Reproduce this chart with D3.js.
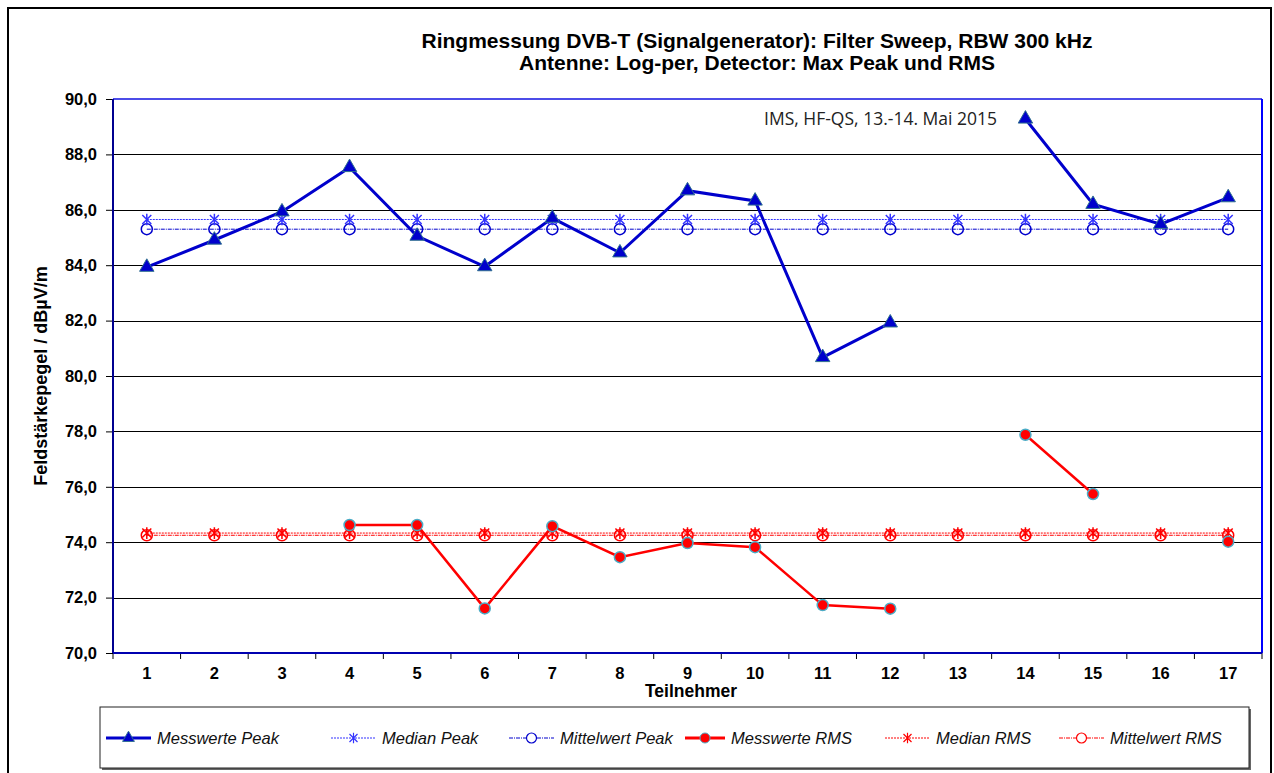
<!DOCTYPE html>
<html>
<head>
<meta charset="utf-8">
<script src="https://cdn.jsdelivr.net/npm/d3@7"></script>
<style>
  html, body { margin: 0; padding: 0; background: #fff; }
  svg { display: block; }
</style>
</head>
<body>
<svg id="chart" width="1274" height="773"></svg>
<script>
// ---- data ----
const categories = ["1","2","3","4","5","6","7","8","9","10","11","12","13","14","15","16","17"];
const messwertePeak = [83.93, 84.91, 85.93, 87.53, 85.05, 83.95, 85.7, 84.45, 86.69, 86.32, 80.67, 81.92, null, 89.28, 86.2, 85.48, 86.44];
const medianPeak = [85.65, 85.65, 85.65, 85.65, 85.65, 85.65, 85.65, 85.65, 85.65, 85.65, 85.65, 85.65, 85.65, 85.65, 85.65, 85.65, 85.65];
const mittelwertPeak = [85.3, 85.3, 85.3, 85.3, 85.3, 85.3, 85.3, 85.3, 85.3, 85.3, 85.3, 85.3, 85.3, 85.3, 85.3, 85.3, 85.3];
const messwerteRMS = [null, null, null, 74.62, 74.62, 71.61, 74.58, 73.46, 73.97, 73.82, 71.73, 71.6, null, 77.88, 75.74, null, 74.02];
const medianRMS = [74.33, 74.33, 74.33, 74.33, 74.33, 74.33, 74.33, 74.33, 74.33, 74.33, 74.33, 74.33, 74.33, 74.33, 74.33, 74.33, 74.33];
const mittelwertRMS = [74.25, 74.25, 74.25, 74.25, 74.25, 74.25, 74.25, 74.25, 74.25, 74.25, 74.25, 74.25, 74.25, 74.25, 74.25, 74.25, 74.25];
const yTicks = [70, 72, 74, 76, 78, 80, 82, 84, 86, 88, 90];
const titleLines = ["Ringmessung DVB-T (Signalgenerator): Filter Sweep, RBW 300 kHz", "Antenne: Log-per, Detector: Max Peak und RMS"];
const yTitle = "Feldstärkepegel / dBµV/m";
const xTitle = "Teilnehmer";
const note = "IMS, HF-QS, 13.-14. Mai 2015";
const legendLabels = ["Messwerte Peak", "Median Peak", "Mittelwert Peak", "Messwerte RMS", "Median RMS", "Mittelwert RMS"];

// ---- layout ----
const svg = d3.select("#chart");
const P = { left: 113, right: 1262, top: 99, bottom: 653 };
const x = d3.scaleBand().domain(categories).range([P.left, P.right]).paddingInner(0).paddingOuter(0);
const cx = c => x(c) + x.bandwidth() / 2;
const y = d3.scaleLinear().domain([70, 90]).range([P.bottom, P.top]);

const BLUE = "#0000CC", LBLUE = "#3333FF", RED = "#FF0000", EDGE = "#4BACC6";
const BOLD = "'Liberation Sans', Arial, sans-serif";

// outer frame
svg.append("rect").attr("x", 8).attr("y", 8).attr("width", 1263).attr("height", 790)
  .attr("fill", "none").attr("stroke", "#000").attr("stroke-width", 2);

// title
const tt = svg.append("text").attr("x", 757).attr("y", 48).attr("text-anchor", "middle")
  .attr("font-family", "'Liberation Sans Narrow', 'Arial Narrow', 'Liberation Sans', sans-serif")
  .attr("font-weight", "bold").attr("font-size", 21).attr("fill", "#000");
titleLines.forEach((t, i) => tt.append("tspan").attr("x", 757).attr("dy", i === 0 ? 0 : 22).text(t));

// gridlines
svg.append("g").selectAll("line").data(yTicks.filter(v => v > 70 && v < 90)).join("line")
  .attr("x1", P.left).attr("x2", P.right)
  .attr("y1", d => Math.round(y(d)) + 0.5).attr("y2", d => Math.round(y(d)) + 0.5)
  .attr("stroke", "#000").attr("stroke-width", 1);

// y axis
const yAxis = d3.axisLeft(y).tickValues(yTicks).tickSize(7).tickPadding(9)
  .tickFormat(d => d3.format(".1f")(d).replace(".", ","));
const gy = svg.append("g").attr("transform", `translate(${P.left},0)`).call(yAxis);
gy.select(".domain").remove();
gy.selectAll(".tick line").attr("stroke", "#000");
gy.selectAll(".tick text").attr("font-family", BOLD).attr("font-weight", "bold").attr("font-size", 16.5).attr("fill", "#000");

// x axis
const xAxis = d3.axisBottom(x).tickSize(0).tickPadding(14);
const gx = svg.append("g").attr("transform", `translate(0,${P.bottom})`).call(xAxis);
gx.select(".domain").remove();
gx.selectAll(".tick text").attr("font-family", BOLD).attr("font-weight", "bold").attr("font-size", 16.5).attr("fill", "#000");
svg.append("g").selectAll("line").data(categories.concat(["end"])).join("line")
  .attr("x1", (d, i) => i < categories.length ? x(d) : P.right)
  .attr("x2", (d, i) => i < categories.length ? x(d) : P.right)
  .attr("y1", P.bottom).attr("y2", P.bottom + 6).attr("stroke", "#000");

// plot border
svg.append("line").attr("x1", P.left).attr("x2", P.right).attr("y1", P.top).attr("y2", P.top).attr("stroke", "#1010E0").attr("stroke-width", 1.5);
svg.append("line").attr("x1", P.right).attr("x2", P.right).attr("y1", P.top).attr("y2", P.bottom).attr("stroke", "#0000FF").attr("stroke-width", 2);
svg.append("line").attr("x1", P.left).attr("x2", P.left).attr("y1", P.top).attr("y2", P.bottom).attr("stroke", "#000090").attr("stroke-width", 2);
svg.append("line").attr("x1", P.left).attr("x2", P.right).attr("y1", P.bottom).attr("y2", P.bottom).attr("stroke", "#0000B0").attr("stroke-width", 2);

// axis titles
svg.append("text").attr("transform", `translate(47,${(P.top + P.bottom) / 2}) rotate(-90)`)
  .attr("text-anchor", "middle").attr("font-family", BOLD).attr("font-weight", "bold").attr("font-size", 18).text(yTitle);
svg.append("text").attr("x", 691).attr("y", 697).attr("text-anchor", "middle")
  .attr("font-family", BOLD).attr("font-weight", "bold").attr("font-size", 17.5).text(xTitle);

// note
svg.append("text").attr("x", 997).attr("y", 125).attr("text-anchor", "end")
  .attr("font-family", "'Open Sans', 'Noto Sans', sans-serif").attr("font-size", 17.5).attr("fill", "#222").text(note);

// ---- marker helpers ----
function starPath(s) {
  return `M${-s},${-s}L${s},${s}M${-s},${s}L${s},${-s}M0,${-s * 1.3}L0,${s * 1.3}`;
}
const triSym = d3.symbol().type(d3.symbolTriangle).size(90);

function flatSeries(vals, color, dash, width) {
  const pts = categories.map((c, i) => [cx(c), vals[i]]);
  svg.append("path").datum(pts)
    .attr("d", d3.line().defined(d => d[1] != null).x(d => d[0]).y(d => y(d[1])))
    .attr("fill", "none").attr("stroke", color).attr("stroke-width", width).attr("stroke-dasharray", dash);
}

// median/mean lines
flatSeries(medianPeak, LBLUE, "2,1", 1);
flatSeries(mittelwertPeak, BLUE, "4,1,1,1", 1);
flatSeries(medianRMS, RED, "2,1", 1);
flatSeries(mittelwertRMS, RED, "4,1,1,1", 1);

// median / mean markers
function starMarkers(vals, color) {
  svg.append("g").selectAll("path").data(categories.filter((c, i) => vals[i] != null)).join("path")
    .attr("transform", c => `translate(${cx(c)},${y(vals[categories.indexOf(c)])})`)
    .attr("d", starPath(4.5)).attr("fill", "none").attr("stroke", color).attr("stroke-width", 1.5);
}
function circleMarkers(vals, color) {
  svg.append("g").selectAll("circle").data(categories.filter((c, i) => vals[i] != null)).join("circle")
    .attr("cx", c => cx(c)).attr("cy", c => y(vals[categories.indexOf(c)])).attr("r", 5.5)
    .attr("fill", "none").attr("stroke", color).attr("stroke-width", 1.5);
}
circleMarkers(mittelwertPeak, BLUE);
starMarkers(medianPeak, LBLUE);
circleMarkers(mittelwertRMS, RED);
starMarkers(medianRMS, RED);

// Messwerte Peak
const peakPts = categories.map((c, i) => ({ c, v: messwertePeak[i] }));
svg.append("path").datum(peakPts)
  .attr("d", d3.line().defined(d => d.v != null).x(d => cx(d.c)).y(d => y(d.v)))
  .attr("fill", "none").attr("stroke", BLUE).attr("stroke-width", 3);
svg.append("g").selectAll("path").data(peakPts.filter(d => d.v != null)).join("path")
  .attr("transform", d => `translate(${cx(d.c)},${y(d.v)})`)
  .attr("d", triSym).attr("fill", BLUE).attr("stroke", "#2F6F8F").attr("stroke-width", 1);

// Messwerte RMS
const rmsPts = categories.map((c, i) => ({ c, v: messwerteRMS[i] }));
svg.append("path").datum(rmsPts)
  .attr("d", d3.line().defined(d => d.v != null).x(d => cx(d.c)).y(d => y(d.v)))
  .attr("fill", "none").attr("stroke", RED).attr("stroke-width", 2.5);
svg.append("g").selectAll("circle").data(rmsPts.filter(d => d.v != null)).join("circle")
  .attr("cx", d => cx(d.c)).attr("cy", d => y(d.v)).attr("r", 5.5)
  .attr("fill", RED).attr("stroke", EDGE).attr("stroke-width", 1.5);

// ---- legend ----
const L = { x: 100, y: 707, w: 1149, h: 61 };
svg.append("rect").attr("x", L.x + 2).attr("y", L.y + 2).attr("width", L.w).attr("height", L.h).attr("fill", "#666");
svg.append("rect").attr("x", L.x).attr("y", L.y).attr("width", L.w).attr("height", L.h)
  .attr("fill", "#fff").attr("stroke", "#222").attr("stroke-width", 1);
const textStarts = [157, 382, 560, 731, 936, 1110];
const sampleLen = [45, 45, 45, 40, 45, 45];
const ly = 738;
const legendStyles = [
  { color: BLUE, width: 3, dash: null, mark: "tri" },
  { color: LBLUE, width: 1, dash: "2,1", mark: "star" },
  { color: BLUE, width: 1, dash: "4,1,1,1", mark: "circle" },
  { color: RED, width: 3, dash: null, mark: "dot" },
  { color: RED, width: 1, dash: "2,1", mark: "star" },
  { color: RED, width: 1, dash: "4,1,1,1", mark: "circle" }
];
const triSmall = d3.symbol().type(d3.symbolTriangle).size(60);
legendLabels.forEach((lab, i) => {
  const st = legendStyles[i];
  const tx = textStarts[i];
  const x2 = tx - 6, x1 = x2 - sampleLen[i], mx = (x1 + x2) / 2;
  const g = svg.append("g");
  g.append("line").attr("x1", x1).attr("x2", x2).attr("y1", ly).attr("y2", ly)
    .attr("stroke", st.color).attr("stroke-width", st.width).attr("stroke-dasharray", st.dash);
  if (st.mark === "tri") g.append("path").attr("transform", `translate(${mx},${ly})`).attr("d", triSmall).attr("fill", BLUE).attr("stroke", "#2F6F8F");
  if (st.mark === "star") g.append("path").attr("transform", `translate(${mx},${ly})`).attr("d", starPath(4)).attr("fill", "none").attr("stroke", st.color).attr("stroke-width", 1.2);
  if (st.mark === "circle") g.append("circle").attr("cx", mx).attr("cy", ly).attr("r", 5).attr("fill", "#fff").attr("stroke", st.color).attr("stroke-width", 1.2);
  if (st.mark === "dot") g.append("circle").attr("cx", mx).attr("cy", ly).attr("r", 5).attr("fill", RED).attr("stroke", EDGE).attr("stroke-width", 1);
  g.append("text").attr("x", tx).attr("y", ly + 6).attr("font-family", BOLD).attr("font-style", "italic")
    .attr("font-size", 16.5).attr("fill", "#111").text(lab);
});
</script>
</body>
</html>
